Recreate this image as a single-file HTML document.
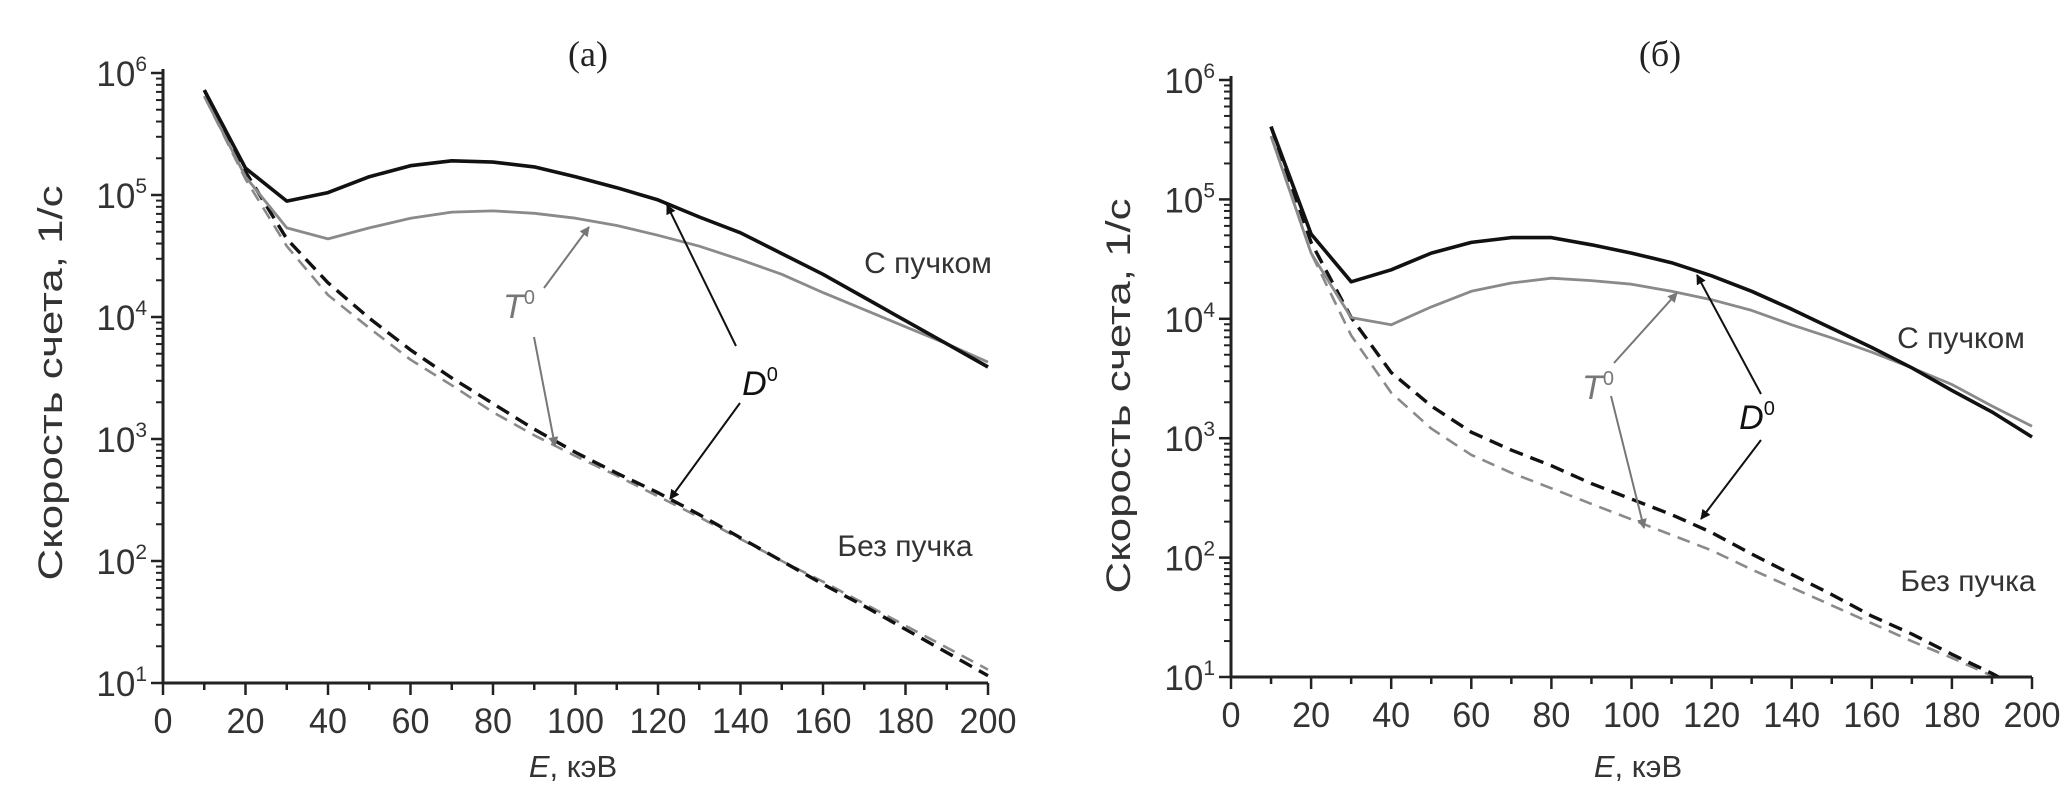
<!DOCTYPE html>
<html><head><meta charset="utf-8">
<style>
html,body{margin:0;padding:0;background:#fff;}
svg{display:block;font-family:"Liberation Sans",sans-serif;}
</style></head>
<body>
<svg id="fig" width="2071" height="811" viewBox="0 0 2071 811" xmlns="http://www.w3.org/2000/svg">
<defs>
<marker id="ahB" markerWidth="10" markerHeight="10" refX="9" refY="5" orient="auto" markerUnits="userSpaceOnUse"><path d="M0,0 L10,5 L0,10 z" fill="#111"/></marker>
<marker id="ahG" markerWidth="10" markerHeight="10" refX="9" refY="5" orient="auto" markerUnits="userSpaceOnUse"><path d="M0,0 L10,5 L0,10 z" fill="#777"/></marker>
</defs>
</svg>
<script>
// shared data
const energies = [10,20,30,40,50,60,70,80,90,100,110,120,130,140,150,160,170,180,190,200];
const xTicks = [0,20,40,60,80,100,120,140,160,180,200];
const yDecades = [1,2,3,4,5,6];
// panel (a): log10 of count rate
const aD0Beam   = [5.86,5.22,4.95,5.02,5.15,5.24,5.28,5.27,5.23,5.15,5.06,4.96,4.82,4.69,4.52,4.35,4.16,3.97,3.78,3.59];
const aT0Beam   = [5.81,5.15,4.73,4.64,4.73,4.81,4.86,4.87,4.85,4.81,4.75,4.67,4.58,4.47,4.35,4.20,4.06,3.92,3.78,3.63];
const aD0NoBeam = [5.86,5.19,4.64,4.28,3.99,3.73,3.50,3.29,3.08,2.89,2.72,2.56,2.38,2.19,2.00,1.81,1.63,1.44,1.25,1.06];
const aT0NoBeam = [5.81,5.13,4.58,4.18,3.91,3.65,3.44,3.22,3.03,2.86,2.70,2.53,2.36,2.18,2.00,1.83,1.65,1.47,1.29,1.11];
// panel (b)
const bD0Beam   = [5.61,4.71,4.31,4.41,4.55,4.64,4.68,4.68,4.62,4.55,4.47,4.36,4.23,4.08,3.92,3.76,3.59,3.40,3.22,3.01];
const bT0Beam   = [5.53,4.55,4.01,3.95,4.10,4.23,4.30,4.34,4.32,4.29,4.23,4.16,4.07,3.95,3.84,3.72,3.59,3.45,3.27,3.10];
const bD0NoBeam = [5.61,4.64,4.01,3.55,3.27,3.05,2.90,2.77,2.62,2.49,2.36,2.21,2.03,1.86,1.69,1.51,1.36,1.19,1.03,0.85];
const bT0NoBeam = [5.53,4.55,3.86,3.38,3.08,2.86,2.71,2.58,2.45,2.32,2.19,2.06,1.90,1.75,1.60,1.45,1.30,1.16,1.01,0.90];

const NS = "http://www.w3.org/2000/svg";
const svg = document.getElementById('fig');
function mk(tag, attrs, parent){
  const e = document.createElementNS(NS, tag);
  for (const k in attrs) e.setAttribute(k, attrs[k]);
  (parent||svg).appendChild(e);
  return e;
}

function panel(cfg){
  const g = mk('g', {});
  
  
  const X = v => cfg.x0 + (v/200)*(cfg.x1-cfg.x0);
  const Y = l => cfg.y1 - (l-1)/5*(cfg.y1-cfg.y0);
  const cid = cfg.name + '-clip';
  const cp = mk('clipPath', {id: cid}, g);
  mk('rect', {x: cfg.x0, y: cfg.y0-20, width: cfg.x1-cfg.x0+10, height: cfg.y1-cfg.y0+20}, cp);
  const series = [
    {d: cfg.t0nb, c:'#8a8a8a', w:2.6, dash:'13 8', n:'t0-no-beam-line'},
    {d: cfg.d0nb, c:'#111', w:3.4, dash:'14 8', n:'d0-no-beam-line'},
    {d: cfg.t0b, c:'#8a8a8a', w:2.8, dash:'', n:'t0-beam-line'},
    {d: cfg.d0b, c:'#111', w:3.6, dash:'', n:'d0-beam-line'}
  ];
  series.forEach(s=>{
    const pts = energies.map((e,i)=>X(e).toFixed(1)+','+Y(s.d[i]).toFixed(1)).join(' ');
    const p = mk('polyline', {points: pts, fill:'none', stroke:s.c, 'stroke-width':s.w, 'stroke-linejoin':'round', 'clip-path':'url(#'+cid+')'}, g);
    if (s.dash) p.setAttribute('stroke-dasharray', s.dash);
    
    
  });
  const ax = mk('path', {d:`M${cfg.x0},${cfg.y0-4} L${cfg.x0},${cfg.y1} L${cfg.x1},${cfg.y1}`, fill:'none', stroke:'#222', 'stroke-width':3}, g);
  
  
  for (let v=0; v<=200; v+=10){
    const major = v%20===0;
    mk('line', {x1:X(v), x2:X(v), y1:cfg.y1, y2:cfg.y1+(major?12:7), stroke:'#222', 'stroke-width':2.5}, g);
  }
  xTicks.forEach(v=>{
    const t = mk('text', {x:X(v), y:cfg.y1+50, 'font-size':35, fill:'#333', 'text-anchor':'middle', 'textLength': String(v).length*19, 'lengthAdjust':'spacingAndGlyphs'}, g);
    t.textContent = v;
    
    
  });
  yDecades.forEach(d=>{
    mk('line', {x1:cfg.x0-12, x2:cfg.x0, y1:Y(d), y2:Y(d), stroke:'#222', 'stroke-width':2.5}, g);
    if (d<6) for (let m=2;m<=9;m++){
      const yy = Y(d+Math.log10(m));
      mk('line', {x1:cfg.x0-7, x2:cfg.x0, y1:yy, y2:yy, stroke:'#222', 'stroke-width':2}, g);
    }
    const t = mk('text', {x:cfg.x0-16, y:Y(d)+13, 'font-size':35, fill:'#333', 'text-anchor':'end'}, g);
    
    
    const ts1 = mk('tspan', {}, t); ts1.textContent = '10';
    const ts2 = mk('tspan', {dy:-15, 'font-size':21}, t); ts2.textContent = d;
  });
  const ti = mk('text', {x:cfg.tx, y:66, 'font-size':36, fill:'#222', 'text-anchor':'middle', 'font-family':'"Liberation Serif",serif'}, g);
  ti.textContent = cfg.title;
  
  
  const yt = mk('text', {x:0, y:0, 'font-size':34, fill:'#333', 'text-anchor':'middle', transform:`translate(${cfg.ytx},${cfg.yty}) rotate(-90)`, textLength:395, lengthAdjust:'spacingAndGlyphs'}, g);
  yt.textContent = 'Скорость счета, 1/с';
  
  
  const xt = mk('text', {x:cfg.xtx, y:777, 'font-size':31, fill:'#333', 'text-anchor':'middle'}, g);
  
  
  const e1 = mk('tspan', {'font-style':'italic'}, xt); e1.textContent='E';
  const e2 = mk('tspan', {}, xt); e2.textContent=', кэВ';
  const l1 = mk('text', {x:cfg.beam[0], y:cfg.beam[1]+11, 'font-size':30, fill:'#333', 'text-anchor':'middle'}, g);
  l1.textContent = 'С пучком';
  
  
  const l2 = mk('text', {x:cfg.nobeam[0], y:cfg.nobeam[1]+11, 'font-size':30, fill:'#333', 'text-anchor':'middle'}, g);
  l2.textContent = 'Без пучка';
  
  
  const tl = mk('text', {x:cfg.t0[0], y:cfg.t0[1]+12, 'font-size':34, fill:'#777', 'text-anchor':'middle', 'font-style':'italic'}, g);
  
  
  const ta = mk('tspan', {}, tl); ta.textContent='T';
  const tb = mk('tspan', {dy:-14, 'font-size':20, 'font-style':'normal'}, tl); tb.textContent='0';
  const dl = mk('text', {x:cfg.d0[0], y:cfg.d0[1]+12, 'font-size':34, fill:'#111', 'text-anchor':'middle', 'font-style':'italic'}, g);
  
  
  const da = mk('tspan', {}, dl); da.textContent='D';
  const db = mk('tspan', {dy:-14, 'font-size':20, 'font-style':'normal'}, dl); db.textContent='0';
  cfg.arrows.forEach(a=>{
    const ln = mk('line', {x1:a[0], y1:a[1], x2:a[2], y2:a[3], stroke:a[4]?'#777':'#111', 'stroke-width':2, 'marker-end':a[4]?'url(#ahG)':'url(#ahB)'}, g);
    
    
  });
}

panel({name:'panel-a', x0:163, x1:988, y0:73, y1:683, title:'(a)', tx:588,
  d0b:aD0Beam, t0b:aT0Beam, d0nb:aD0NoBeam, t0nb:aT0NoBeam,
  ytx:62, yty:383, xtx:573, beam:[928,262], nobeam:[905,545], t0:[519,306], d0:[760,383],
  arrows:[[544,288,589,227,1],[534,337,555,446,1],[736,346,667,205,0],[740,403,670,499,0]]});
panel({name:'panel-b', x0:1231, x1:2032, y0:80, y1:677, title:'(б)', tx:1660,
  d0b:bD0Beam, t0b:bT0Beam, d0nb:bD0NoBeam, t0nb:bT0NoBeam,
  ytx:1130, yty:396, xtx:1638, beam:[1961,337], nobeam:[1968,580], t0:[1598,387], d0:[1757,417],
  arrows:[[1614,363,1677,293,1],[1611,396,1644,528,1],[1761,394,1697,275,0],[1761,440,1701,519,0]]});
</script>
</body></html>
